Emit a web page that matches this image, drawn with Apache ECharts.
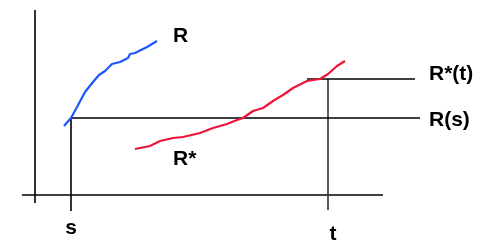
<!DOCTYPE html>
<html>
<head>
<meta charset="utf-8">
<script src="https://cdn.jsdelivr.net/npm/echarts@6/dist/echarts.min.js"></script>
<style>
html, body { margin: 0; padding: 0; background: #fff; }
#chart { width: 480px; height: 242px; }
</style>
</head>
<body>
<div id="chart"></div>
<script>
// diagram values, x = time, y = level (origin where the axes cross)
var s = 36
var t = 293
var Rs = 77
var Rt = 116

var curveR = [[29,69],[36,77],[42,88],[50,103],[58,113],[64,120],[70,124],[77,131],[85,133],[93,137],[95,141],[100,142],[102,144],[112,148],[122,154]]
var curveRstar = [[100,46],[115,49],[125,54],[138,57],[148,58],[165,62],[178,67],[192,71],[202,75],[208,77],[218,84],[228,87],[238,94],[248,100],[258,107],[272,114],[285,116],[293,121],[302,129],[310,134]]

// axis extents
var xAxisLine = [[-13,0],[348,0]]
var yAxisLine = [[0,-8],[0,185]]
var sLine = [[s,-16],[s,Rs]]
var tLine = [[t,-15],[t,Rt]]
var RsLine = [[s,Rs],[385,Rs]]
var RtLine = [[272,Rt],[380,Rt]]

var labels = [
  ['R', 138, 159, 'left'],
  ['R*', 138, 35.5, 'left'],
  ['R*(t)', 394, 120.5, 'left'],
  ['R(s)', 394, 74.5, 'left'],
  ['s', s, -33, 'center'],
  ['t', 298, -39, 'center']
]

var chart = echarts.init(document.getElementById('chart'))

function guide(data, w, col) {
  return {
    type: 'line', data: data, symbol: 'none', silent: true, animation: false,
    lineStyle: { color: col, width: w, opacity: 1 }
  }
}

var option = {
  animation: false,
  grid: { left: 0, right: 0, top: 0, bottom: 0 },
  xAxis: { type: 'value', min: -35, max: 445, show: false },
  yAxis: { type: 'value', min: -47, max: 195, show: false },
  series: [
    guide(xAxisLine, 1.3, '#000'),
    guide(yAxisLine, 1.6, '#000'),
    guide(sLine, 1.6, '#000'),
    guide(tLine, 1.6, '#333'),
    guide(RsLine, 1.3, '#000'),
    guide(RtLine, 1.3, '#000'),
    {
      type: 'line', data: curveR, symbol: 'none', animation: false,
      lineStyle: { color: '#1f55ff', width: 2.2 }
    },
    {
      type: 'line', data: curveRstar, symbol: 'none', animation: false,
      lineStyle: { color: '#f0143c', width: 2.2 }
    },
    {
      type: 'scatter', symbolSize: 0, animation: false, silent: true,
      itemStyle: { opacity: 1 },
      data: labels.map(function (l) {
        return {
          value: [l[1], l[2]],
          label: {
            show: true, position: 'inside', formatter: l[0], align: l[3],
            verticalAlign: 'middle', opacity: 1,
            fontFamily: 'Liberation Sans, Arial, sans-serif', fontWeight: 'bold',
            fontSize: 21, color: '#000'
          }
        }
      })
    }
  ]
}
chart.setOption(option)
</script>
</body>
</html>
